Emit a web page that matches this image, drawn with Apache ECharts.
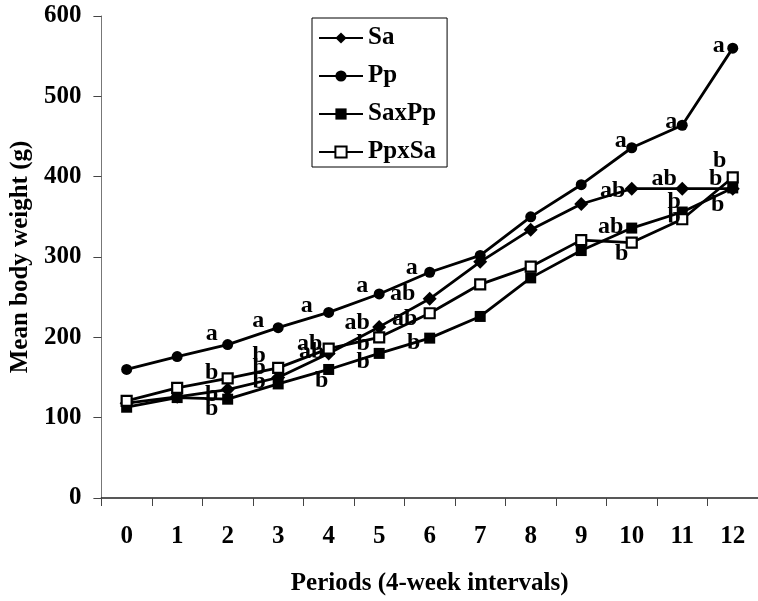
<!DOCTYPE html>
<html>
<head>
<meta charset="utf-8">
<script src="https://cdn.jsdelivr.net/npm/echarts@6/dist/echarts.min.js"></script>
<style>
html,body{margin:0;padding:0;background:#fff;}
#chart{width:758px;height:601px;}
</style>
</head>
<body>
<div id="chart"></div>
<script>
// ---- data ----
const periods = ['0','1','2','3','4','5','6','7','8','9','10','11','12'];
const seriesNames = ['Sa','Pp','SaxPp','PpxSa'];
const sa    = [118, 126, 135, 150, 180, 213, 248, 294, 334, 366, 385, 385, 385];
const pp    = [160, 176, 191, 212, 231, 254, 281, 302, 350, 390, 436, 464, 560];
const saxpp = [113, 125, 123, 142, 160, 180, 199, 226, 274, 308, 336, 356, 386];
const ppxsa = [121, 137, 149, 162, 186, 200, 230, 266, 288, 321, 318, 347, 399];
const saLetters    = ['', '', 'b', 'b', 'ab', 'ab', 'ab', '', '', '', 'ab', 'ab', 'b'];
const ppLetters    = ['', '', 'a', 'a', 'a', 'a', 'a', '', '', '', 'a', 'a', 'a'];
const saxppLetters = ['', '', 'b', 'b', 'b', 'b', 'b', '', '', '', 'ab', 'b', 'b'];
const ppxsaLetters = ['', '', 'b', 'b', 'ab', 'b', 'ab', '', '', '', 'b', 'b', 'b'];
const yTicks = {min: 0, max: 600, interval: 100};

// ---- label placement (style, px offsets from marker centre) ----
const labelOffsets = {
  Sa:    {2:[-16,5], 3:[-19,-10], 4:[-17,-2], 5:[-22,-4], 6:[-27,-5], 10:[-19,2], 11:[-18,-10], 12:[-17,-10]},
  Pp:    {2:[-16,-11], 3:[-20,-7], 4:[-22,-7], 5:[-17,-8], 6:[-18,-4], 10:[-11,-7], 11:[-11,-3], 12:[-14,-2]},
  SaxPp: {2:[-16,10], 3:[-19,-2], 4:[-7,11], 5:[-16,8], 6:[-16,5], 10:[-21,-1], 11:[-8,-10], 12:[-15,17]},
  PpxSa: {2:[-16,-6], 3:[-19,-12], 4:[-19,-5], 5:[-16,6], 6:[-25,6], 10:[-10,11], 11:[-8,-2], 12:[-13,-17]}
};

const FONT = 'Liberation Serif';
const FS = 25;
function buildData(name, values, letters) {
  return values.map((v, i) => {
    const item = {value: v};
    if (letters[i]) {
      item.label = {show: true, formatter: letters[i], offset: labelOffsets[name][i] || [-16, 0]};
    }
    return item;
  });
}
const labelStyle = {
  show: false, position: 'inside', color: '#000', fontFamily: FONT,
  fontWeight: 'bold', fontSize: 24, align: 'center', verticalAlign: 'middle'
};
function mkSeries(name, values, letters, symbol, size, fill) {
  return {
    name: name, type: 'line', data: buildData(name, values, letters),
    symbol: symbol, symbolSize: size, showAllSymbol: true,
    lineStyle: {color: '#000', width: 2.8},
    itemStyle: {color: fill, borderColor: '#000', borderWidth: fill === '#fff' ? 2.2 : 0},
    label: labelStyle,
    emphasis: {disabled: true},
    animation: false
  };
}

const chart = echarts.init(document.getElementById('chart'), null, {renderer: 'canvas'});
chart.setOption({
  backgroundColor: '#fff',
  animation: false,
  grid: {left: 101, right: 0, top: 16, bottom: 96, containLabel: false},
  legend: {
    orient: 'vertical', left: 312, top: 18,
    data: seriesNames,
    itemWidth: 44, itemHeight: 14, itemGap: 12,
    padding: [7, 11, 2, 6],
    borderColor: '#000', borderWidth: 1,
    textStyle: {color: '#000', fontFamily: FONT, fontWeight: 'bold', fontSize: FS, lineHeight: 26},
    selectedMode: false
  },
  xAxis: {
    type: 'category', data: periods, boundaryGap: true,
    name: 'Periods (4-week intervals)', nameLocation: 'middle', nameGap: 73,
    nameTextStyle: {color: '#000', fontFamily: FONT, fontWeight: 'bold', fontSize: FS},
    axisLine: {lineStyle: {color: '#222', width: 1.5}},
    axisTick: {show: true, length: 8, lineStyle: {color: '#444'}},
    axisLabel: {color: '#000', fontFamily: FONT, fontWeight: 'bold', fontSize: FS, margin: 26},
    splitLine: {show: false}
  },
  yAxis: {
    type: 'value', min: yTicks.min, max: yTicks.max, interval: yTicks.interval,
    name: 'Mean body weight (g)', nameLocation: 'middle', nameGap: 58, nameRotate: 90,
    nameTextStyle: {color: '#000', fontFamily: FONT, fontWeight: 'bold', fontSize: FS},
    axisLine: {show: true, lineStyle: {color: '#777', width: 1}},
    axisTick: {show: true, length: 8, lineStyle: {color: '#444'}},
    axisLabel: {color: '#000', fontFamily: FONT, fontWeight: 'bold', fontSize: FS, margin: 20},
    splitLine: {show: false}
  },
  series: [
    mkSeries('Sa', sa, saLetters, 'diamond', 14, '#000'),
    mkSeries('Pp', pp, ppLetters, 'circle', 11, '#000'),
    mkSeries('SaxPp', saxpp, saxppLetters, 'rect', 11, '#000'),
    mkSeries('PpxSa', ppxsa, ppxsaLetters, 'rect', 10, '#fff')
  ]
});
</script>
</body>
</html>
